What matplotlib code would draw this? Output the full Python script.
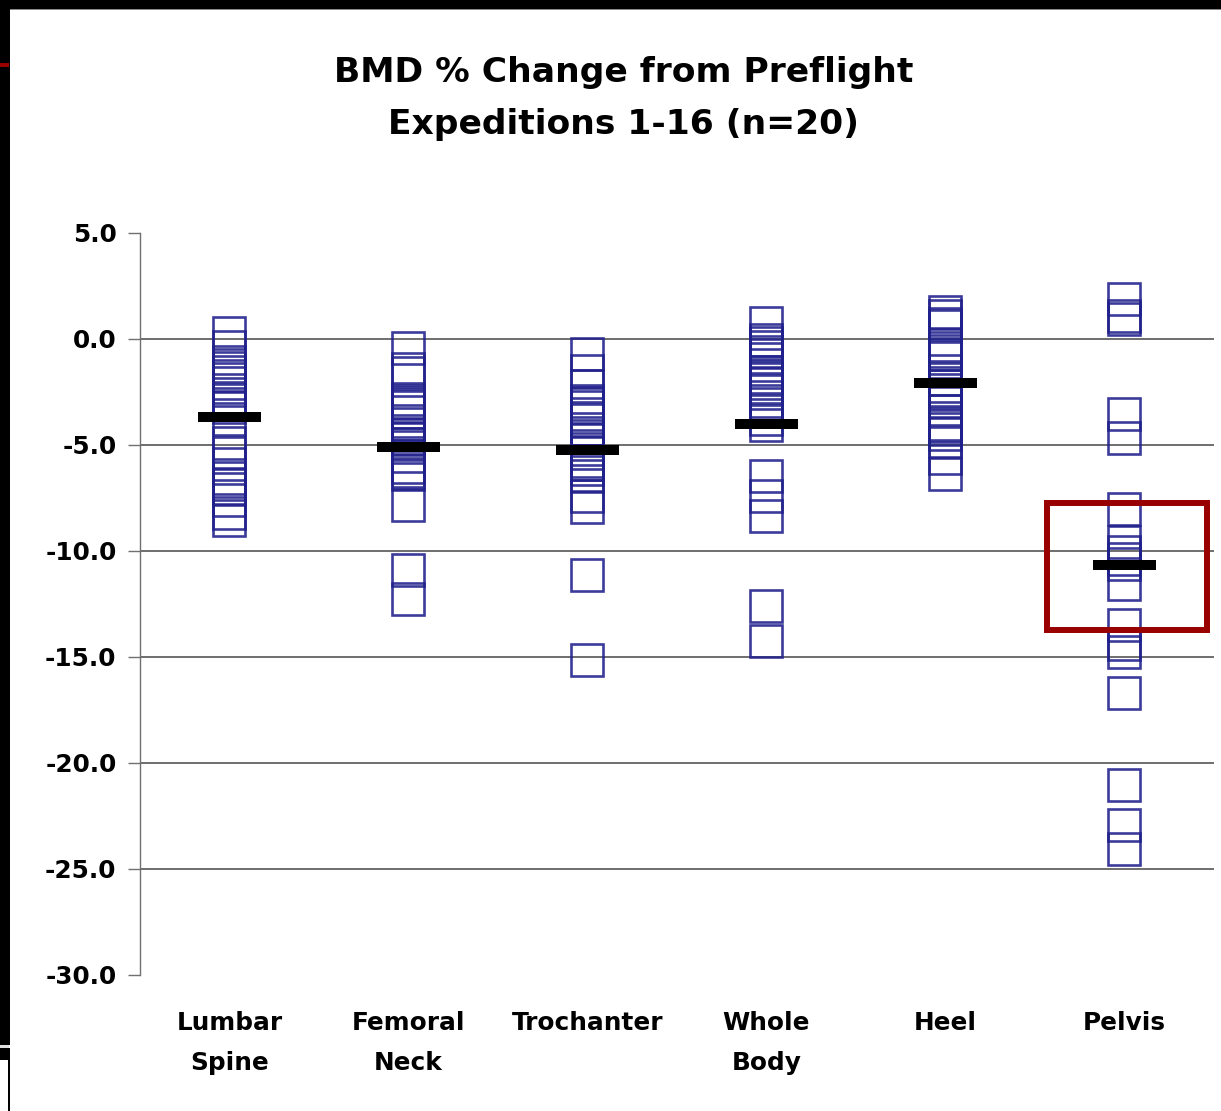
import matplotlib
matplotlib.use("Agg")
import matplotlib.pyplot as plt
from matplotlib.patches import Rectangle
import numpy as np

plt.rcParams['font.family'] = ['DejaVu Sans']
plt.rcParams['axes.unicode_minus'] = False

# ---------------- data ----------------
categories = ["Lumbar\nSpine", "Femoral\nNeck", "Trochanter", "Whole\nBody", "Heel", "Pelvis"]

lumbar_spine = [0.28, -0.42, -1.13, -1.37, -1.56, -1.75, -2.12, -2.41, -2.81, -3.25,
                -3.82, -4.91, -5.38, -5.90, -6.56, -6.84, -7.12, -7.64, -8.21, -8.54]
femoral_neck = [-0.46, -1.45, -1.65, -2.86, -3.02, -3.25, -3.49, -3.88, -4.04, -4.51,
                -4.67, -4.99, -5.14, -5.52, -6.08, -6.23, -6.37, -7.84, -10.92, -12.31]
trochanter = [-0.71, -1.52, -2.26, -2.94, -3.10, -3.25, -3.57, -3.85, -4.28, -4.81,
              -5.19, -5.38, -5.77, -5.93, -6.17, -6.48, -7.42, -7.97, -11.17, -15.16]
whole_body = [0.75, -0.08, -0.19, -0.39, -0.66, -0.98, -1.27, -1.60, -1.81, -2.12,
              -2.39, -2.94, -3.41, -3.81, -4.06, -6.48, -7.42, -8.36, -12.64, -14.25]
heel = [1.23, 1.07, 0.67, 0.60, -0.30, -0.57, -0.74, -1.51, -1.92, -2.23,
        -2.45, -2.63, -2.94, -3.40, -4.01, -4.28, -4.51, -4.83, -5.66, -6.39]
pelvis = [1.86, 1.05, 0.90, -3.56, -4.67, -8.05, -9.62, -10.09, -10.42, -10.66,
          -11.60, -13.50, -14.40, -14.80, -16.70, -21.06, -22.97, -24.08]

site_values = [lumbar_spine, femoral_neck, trochanter, whole_body, heel, pelvis]
site_means = [-3.69, -5.14, -5.26, -4.03, -2.11, -10.68]

y_ticks = [5.0, 0.0, -5.0, -10.0, -15.0, -20.0, -25.0, -30.0]
grid_values = [0.0, -5.0, -10.0, -15.0, -20.0, -25.0]
y_tick_labels = ["5.0", "0.0", "-5.0", "-10.0", "-15.0", "-20.0", "-25.0", "-30.0"]

highlight_site = "Pelvis"
highlight_range = (-7.76, -13.75)

title_line1 = "BMD % Change from Preflight"
title_line2 = "Expeditions 1-16 (n=20)"

# ---------------- figure ----------------
W, H = 1221, 1111
fig = plt.figure(figsize=(W / 100, H / 100), dpi=100)
fig.patch.set_facecolor("white")

ax_left, ax_right, ax_top, ax_bottom = 140, 1214, 232.5, 974.5
ax = fig.add_axes([ax_left / W, 1 - ax_bottom / H, (ax_right - ax_left) / W, (ax_bottom - ax_top) / H])
ax.set_facecolor("white")

positions = np.arange(len(categories)) + 0.5

for gv in grid_values:
    ax.axhline(gv, color="#555555", lw=1.2, zorder=1)

for x, vals in zip(positions, site_values):
    ax.plot(np.full(len(vals), x), vals, ls="none", marker="s", ms=23.4,
            mfc="none", mec="#20208c", mew=1.9, alpha=0.88, zorder=3)

ax.hlines(site_means, positions - 0.178, positions + 0.178, color="black",
          lw=7.2, zorder=5, capstyle="butt")

# highlight rectangle around the pelvis mean
hi = categories.index(highlight_site)
ax.add_patch(Rectangle((positions[hi] - 0.435, highlight_range[1]), 0.895,
                       highlight_range[0] - highlight_range[1], fill=False,
                       ec="#990000", lw=4.3, zorder=6, clip_on=False))

ax.set_xlim(0, len(categories))
ax.set_ylim(-30, 5)
ax.set_yticks(y_ticks)
ax.set_yticklabels(y_tick_labels, fontsize=17.8, fontweight="bold")
ax.set_xticks(positions)
ax.set_xticklabels(categories, fontsize=17.8, fontweight="bold", linespacing=1.85)
ax.tick_params(axis="x", length=0, pad=26)
ax.tick_params(axis="y", length=9, width=1.0, color="#707070", pad=8)

for s in ["top", "right", "bottom"]:
    ax.spines[s].set_visible(False)
ax.spines["left"].set_color("#707070")
ax.spines["left"].set_linewidth(1.0)

# title
fig.text(624 / W, 1 - 82 / H, title_line1, ha="center", va="baseline",
         fontsize=24.8, fontweight="bold")
fig.text(624 / W, 1 - 134 / H, title_line2, ha="center", va="baseline",
         fontsize=24.8, fontweight="bold")

# slide frame decorations
def frame_rect(x0, y0, x1, y1, color):
    fig.add_artist(Rectangle((x0 / W, 1 - y1 / H), (x1 - x0) / W, (y1 - y0) / H,
                             transform=fig.transFigure, color=color, lw=0, zorder=10))

frame_rect(0, 0, W, 9, "black")
frame_rect(10, 9, W, 10, "#8a8a8a")
frame_rect(0, 0, 10, 1045, "black")
frame_rect(0, 63, 9, 67, "#990000")
frame_rect(0, 1045, 9, 1048, "#dddddd")
frame_rect(0, 1048, 10, 1060, "black")
frame_rect(8, 1060, 10, H, "black")

fig.savefig("out.png", dpi=100)
